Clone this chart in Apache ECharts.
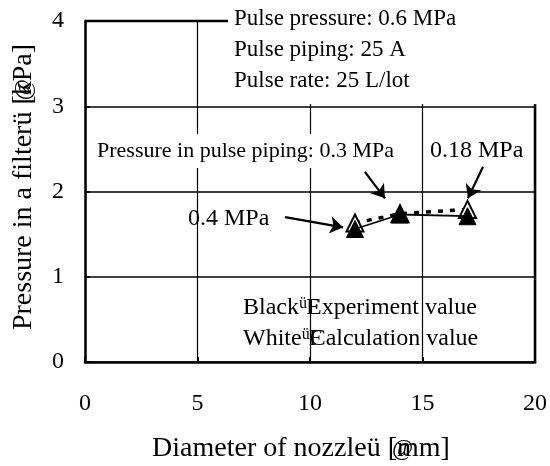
<!DOCTYPE html>
<html>
<head>
<meta charset="utf-8">
<script src="https://cdn.jsdelivr.net/npm/echarts@6/dist/echarts.min.js"></script>
<style>
  html, body { margin: 0; padding: 0; background: #fff; }
  #chart { width: 550px; height: 466px; }
</style>
</head>
<body>
<div id="chart"></div>
<script>
// Nozzle diameter [mm] and pressure in the filter [kPa]
const nozzleDiameter = [12, 14, 17];
const experimentValues = [1.56, 1.73, 1.71];
const calculationValues = [1.63, 1.74, 1.79];

const xTicks = [0, 5, 10, 15, 20];
const yTicks = [0, 1, 2, 3, 4];

// Annotation arrows, in data coordinates: [from, to]
const arrowLines = [
  [[8.89, 1.70], [11.47, 1.58]],
  [[12.44, 2.23], [13.33, 1.92]],
  [[17.69, 2.29], [17.02, 1.92]]
];

const FONT = '"Liberation Serif", "DejaVu Serif", serif';

// text width helper for placing the overprinted glyphs
const measureCtx = document.createElement('canvas').getContext('2d');
function textWidth(str, size) {
  measureCtx.font = size + 'px ' + FONT;
  return measureCtx.measureText(str).width;
}

const chart = echarts.init(document.getElementById('chart'), null, { renderer: 'canvas' });
const pairs = (xs, ys) => xs.map((x, i) => [x, ys[i]]);

// axis titles with an overprinted "@"
const xTitle = 'Diameter of nozzleü [mm]';
const xTitleSize = 28, xTitleCx = 301, xTitleY = 449;
const xTitleLeft = xTitleCx - textWidth(xTitle, xTitleSize) / 2;
const xAtLeft = xTitleLeft + textWidth('Diameter of nozzleü [', xTitleSize) - 5;

const yTitle = 'Pressure in a filterü [kPa]';
const yTitleSize = 28, yTitleCy = 187, yTitleX = 24;
const yTitleBottom = yTitleCy + textWidth(yTitle, yTitleSize) / 2;
const yAtBottom = yTitleBottom - textWidth('Pressure in a filterü [', yTitleSize) + 5;

// key lines: "Black" + small "ü" + "Experiment value", with an "F" printed over the "E"
const keySize = 24, keyX = 243;
function keyLine(word, rest, y) {
  const w1 = textWidth(word, keySize);
  const wU = textWidth('ü', 16);
  return [
    { type: 'text', x: keyX, y: y, style: { text: word, font: keySize + 'px ' + FONT, fill: '#000', verticalAlign: 'middle' }, z: 21 },
    { type: 'text', x: keyX + w1, y: y - 4, style: { text: 'ü', font: '16px ' + FONT, fill: '#000', verticalAlign: 'middle' }, z: 21 },
    { type: 'text', x: keyX + w1 + wU, y: y, style: { text: rest, font: keySize + 'px ' + FONT, fill: '#000', verticalAlign: 'middle' }, z: 21 },
    { type: 'text', x: keyX + w1 + wU - 1, y: y, style: { text: 'F', font: keySize + 'px ' + FONT, fill: '#000', verticalAlign: 'middle' }, z: 21 }
  ];
}

chart.setOption({
  animation: false,
  backgroundColor: '#fff',
  grid: { left: 85, right: 15, top: 21, bottom: 104, show: false },
  xAxis: {
    type: 'value', min: xTicks[0], max: xTicks[xTicks.length - 1], interval: 5,
    axisLine: { show: true, onZero: false, lineStyle: { color: '#000', width: 2.5 } },
    axisTick: { show: true, inside: true, length: 5, lineStyle: { color: '#000', width: 2 } },
    axisLabel: { color: '#000', fontFamily: FONT, fontSize: 24, margin: 30 },
    splitLine: { show: true, lineStyle: { color: '#000', width: 1.2 } }
  },
  yAxis: {
    type: 'value', min: yTicks[0], max: yTicks[yTicks.length - 1], interval: 1,
    axisLine: { show: true, onZero: false, lineStyle: { color: '#000', width: 2.5 } },
    axisTick: { show: true, inside: true, length: 5, lineStyle: { color: '#000', width: 2 } },
    axisLabel: { color: '#000', fontFamily: FONT, fontSize: 24, margin: 21 },
    splitLine: { show: true, lineStyle: { color: '#000', width: 1.6 } }
  },
  series: [
    {
      name: 'Calculation value',
      type: 'line',
      data: pairs(nozzleDiameter, calculationValues),
      symbol: 'triangle', symbolSize: 17,
      itemStyle: { color: '#fff', borderColor: '#000', borderWidth: 2 },
      lineStyle: { color: '#000', width: 3.5, type: [5, 7] },
      z: 3
    },
    {
      name: 'Experiment value',
      type: 'line',
      data: pairs(nozzleDiameter, experimentValues),
      symbol: 'triangle', symbolSize: 17,
      itemStyle: { color: '#000', borderColor: '#000', borderWidth: 1 },
      lineStyle: { color: '#000', width: 1.8 },
      z: 4
    },
    {
      type: 'lines',
      coordinateSystem: 'cartesian2d',
      data: arrowLines.map(c => ({ coords: c })),
      symbol: ['none', 'arrow'],
      symbolSize: [0, 13],
      lineStyle: { color: '#000', width: 2.2, opacity: 1 },
      z: 5
    }
  ],
  graphic: [
    // top and right frame of the plot area
    { type: 'line', shape: { x1: 85, y1: 21, x2: 535, y2: 21 }, style: { stroke: '#000', lineWidth: 2.5 }, z: 10 },
    { type: 'line', shape: { x1: 535, y1: 21, x2: 535, y2: 363 }, style: { stroke: '#000', lineWidth: 2.5 }, z: 10 },
    // condition box in the upper right corner
    { type: 'rect', shape: { x: 228, y: 0, width: 322, height: 104 }, style: { fill: '#fff' }, z: 20 },
    { type: 'text', x: 234, y: 19, style: { text: 'Pulse pressure: 0.6 MPa', font: '23px ' + FONT, fill: '#000', verticalAlign: 'middle' }, z: 21 },
    { type: 'text', x: 234, y: 50, style: { text: 'Pulse piping: 25 A', font: '23px ' + FONT, fill: '#000', verticalAlign: 'middle' }, z: 21 },
    { type: 'text', x: 234, y: 81, style: { text: 'Pulse rate: 25 L/lot', font: '23px ' + FONT, fill: '#000', verticalAlign: 'middle' }, z: 21 },
    // pressure labels
    { type: 'text', x: 97, y: 151, style: { text: 'Pressure in pulse piping: 0.3 MPa', font: '22px ' + FONT, fill: '#000', verticalAlign: 'middle', backgroundColor: '#fff', padding: [6, 0, 6, 0] }, z: 21 },
    { type: 'text', x: 430, y: 151, style: { text: '0.18 MPa', font: '24px ' + FONT, fill: '#000', verticalAlign: 'middle' }, z: 21 },
    { type: 'text', x: 188, y: 219, style: { text: '0.4 MPa', font: '24px ' + FONT, fill: '#000', verticalAlign: 'middle' }, z: 21 },
    // key
    ...keyLine('Black', 'Experiment value', 308),
    ...keyLine('White', 'Calculation value', 339),
    // axis titles
    { type: 'text', x: xTitleCx, y: xTitleY, style: { text: xTitle, font: xTitleSize + 'px ' + FONT, fill: '#000', align: 'center', verticalAlign: 'middle' }, z: 21 },
    { type: 'text', x: xAtLeft, y: xTitleY, style: { text: '@', font: '23px ' + FONT, fill: '#000', verticalAlign: 'middle' }, z: 22 },
    { type: 'text', x: yTitleX, y: yTitleCy, rotation: Math.PI / 2, style: { text: yTitle, font: yTitleSize + 'px ' + FONT, fill: '#000', align: 'center', verticalAlign: 'middle' }, z: 21 },
    { type: 'text', x: yTitleX, y: yAtBottom, rotation: Math.PI / 2, style: { text: '@', font: '23px ' + FONT, fill: '#000', verticalAlign: 'middle' }, z: 22 }
  ]
});
</script>
</body>
</html>
